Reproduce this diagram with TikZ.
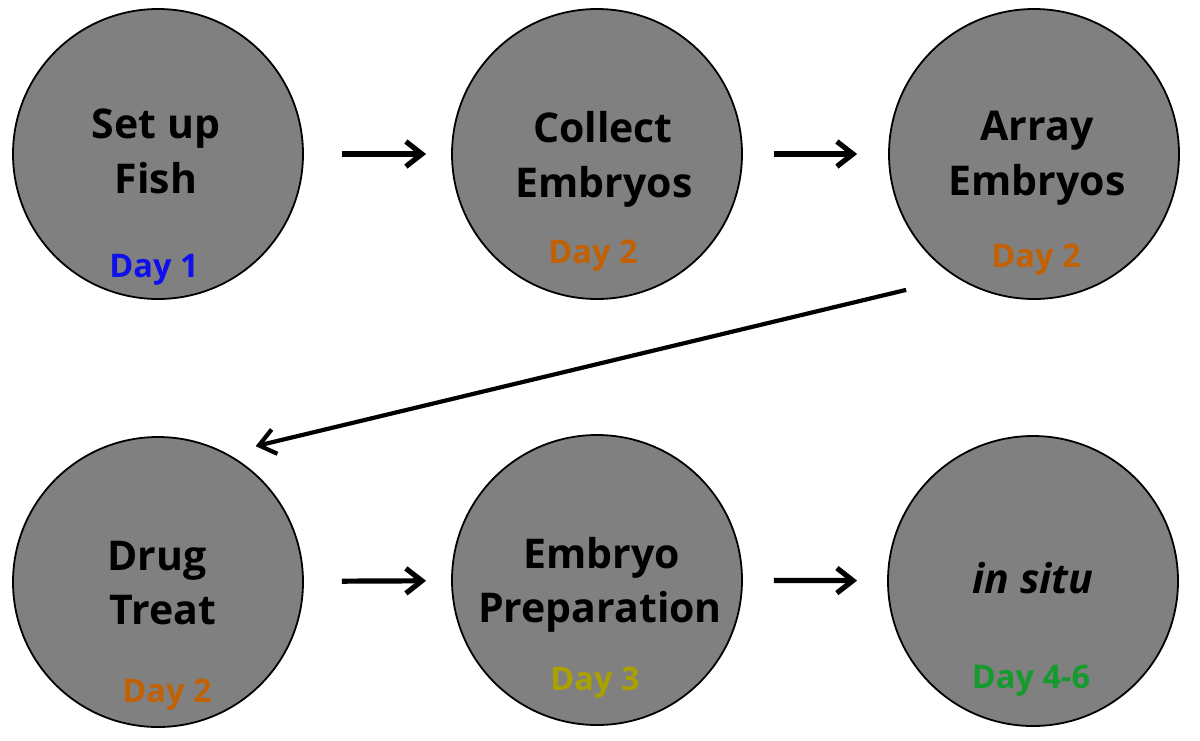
\documentclass[tikz,border=0pt]{standalone}
\usepackage{fontspec}
\setmainfont{Open Sans}
\usepackage{tikz}
\usetikzlibrary{arrows.meta}
\definecolor{stepgray}{HTML}{808080}
\definecolor{dayblue}{HTML}{1010EE}
\definecolor{dayorange}{HTML}{C26103}
\definecolor{dayolive}{HTML}{A9A100}
\definecolor{daygreen}{HTML}{149A2D}

\begin{document}
\begin{tikzpicture}[x=1pt,y=-1pt,>={Straight Barb[length=16pt,width=25pt]},
 st/.style={circle,draw,line width=1.8pt,fill=stepgray,minimum size=290pt,inner sep=0pt},
 ttl/.style={anchor=base,font=\fontsize{41}{48}\selectfont\bfseries},
 day/.style={anchor=base,font=\fontsize{32.5}{36}\selectfont\bfseries},
 flow/.style={->,line width=5.2pt,line join=round}]
\useasboundingbox (0,0) rectangle (1200,740);
\newcommand{\WFarrow}[5]{\draw[flow,shorten <=#3,shorten >=#4,#5] (#1) -- (#2);}
\node[st] (Top-fish) at (158,154) {};\node[st] (Top-collect) at (597,154) {};\node[st] (Top-array) at (1034,154) {};
\node[st] (Bot-drug) at (158,582) {};\node[st] (Bot-prep) at (597,580) {};\node[st] (Bot-insitu) at (1033,581) {};
\node[ttl] (Top-fish-a) at (156,138) {Set up};\node[ttl] (Top-fish-b) at (156,193) {Fish};
\node[day,text=dayblue] (Top-fish-d) at (154,277) {Day 1};
\node[ttl] (Top-collect-a) at (603,142) {Collect};\node[ttl] (Top-collect-b) at (604,197) {Embryos};
\node[day,text=dayorange] (Top-collect-d) at (593,263) {Day 2};
\node[ttl] (Top-array-a) at (1037,140) {Array};\node[ttl] (Top-array-b) at (1037,195) {Embryos};
\node[day,text=dayorange] (Top-array-d) at (1036,267) {Day 2};
\node[ttl] (Bot-drug-a) at (157,570) {Drug};\node[ttl] (Bot-drug-b) at (163,624) {Treat};
\node[day,text=dayorange] (Bot-drug-d) at (167,702) {Day 2};
\node[ttl] (Bot-prep-a) at (602,568) {Embryo};\node[ttl] (Bot-prep-b) at (600,622) {Preparation};
\node[day,text=dayolive] (Bot-prep-d) at (595,690) {Day 3};
\node[ttl,font=\fontsize{41}{48}\selectfont\bfseries\itshape] (Bot-insitu-a) at (1033,593) {in situ};
\node[day,text=daygreen] (Bot-insitu-d) at (1031,688) {Day 4-6};
\WFarrow{Top-fish}{Top-collect}{38pt}{25pt}{}
\WFarrow{Top-collect}{Top-array}{31pt}{31pt}{}
\WFarrow{Top-array.238.7}{Bot-drug.62.9}{52pt}{30pt}{line width=4.2pt}
\WFarrow{Bot-drug}{Bot-prep}{38pt}{25pt}{}
\WFarrow{Bot-prep}{Bot-insitu}{31pt}{30pt}{}
\end{tikzpicture}
\end{document}
